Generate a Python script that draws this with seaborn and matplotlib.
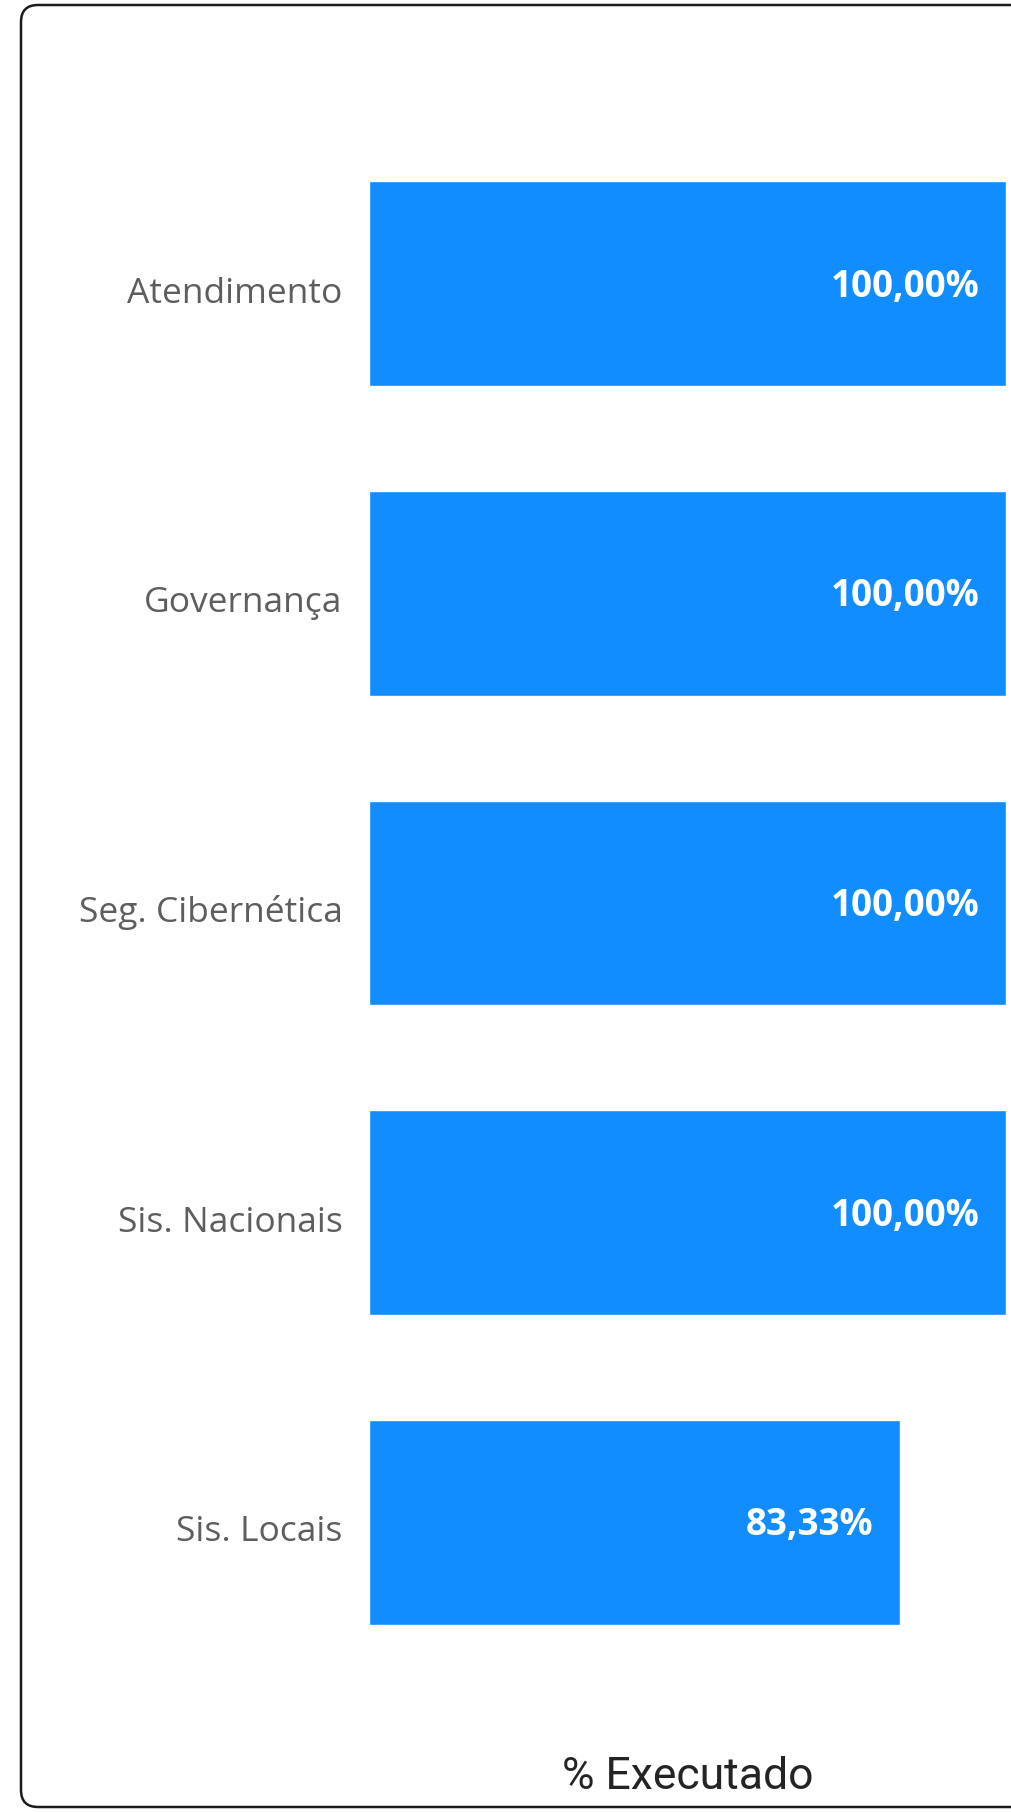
import matplotlib
matplotlib.use("Agg")
import matplotlib.pyplot as plt
import seaborn as sns
import pandas as pd
from matplotlib.patches import FancyBboxPatch
from matplotlib.transforms import IdentityTransform, ScaledTranslation

# dados do grafico
categorias = ["Atendimento", "Governança", "Seg. Cibernética", "Sis. Nacionais", "Sis. Locais"]
executado = [100.00, 100.00, 100.00, 100.00, 83.33]
titulo_x = "% Executado"

df = pd.DataFrame({"categoria": categorias, "executado": executado})

sns.set_theme(style="white")
plt.rcParams["font.family"] = ["Open Sans", "DejaVu Sans"]

W, H = 1011, 1812
fig = plt.figure(figsize=(W / 100, H / 100), dpi=100, facecolor="white")

# moldura arredondada (lado direito fica fora da imagem)
moldura = FancyBboxPatch((21, 5), 1040, 1802,
                         boxstyle="round,pad=0,rounding_size=17",
                         transform=IdentityTransform(),
                         facecolor="none", edgecolor="#1b1b1b", linewidth=1.8,
                         figure=fig)
fig.patches.append(moldura)

ax = fig.add_axes([369 / W, (H - 1677) / H, 637 / W, 1548 / H])
ax.set_facecolor("none")

sns.barplot(data=df, y="categoria", x="executado", orient="h",
            color="#118DFF", saturation=1, width=0.662, ax=ax)

ax.set_xlim(0, 100)
ax.set_ylim(4.5, -0.5)
for s in ax.spines.values():
    s.set_visible(False)
ax.set_xticks([])
ax.tick_params(axis="y", length=0, pad=19, labelsize=25.5, labelcolor="#605E5C")
ax.set_ylabel("")

# desce um pouco os nomes das categorias
desce = ScaledTranslation(0, -6 / 100, fig.dpi_scale_trans)
for lb in ax.get_yticklabels():
    lb.set_transform(lb.get_transform() + desce)

# rotulos de valor dentro da barra
for i, v in enumerate(executado):
    txt = f"{v:.2f}".replace(".", ",") + "%"
    ax.annotate(txt, xy=(v, i), xytext=(-26, -3), textcoords="offset pixels",
                ha="right", va="center", color="white",
                fontsize=26.5, fontweight="bold")

ax.set_xlabel(titulo_x, fontsize=32, color="#252423", family=["Roboto", "DejaVu Sans"])
ax.xaxis.set_label_coords(0.5, -(1777 - 1677) / 1548)
ax.xaxis.label.set_va("center")

fig.savefig("out.png", dpi=100, facecolor="white")
